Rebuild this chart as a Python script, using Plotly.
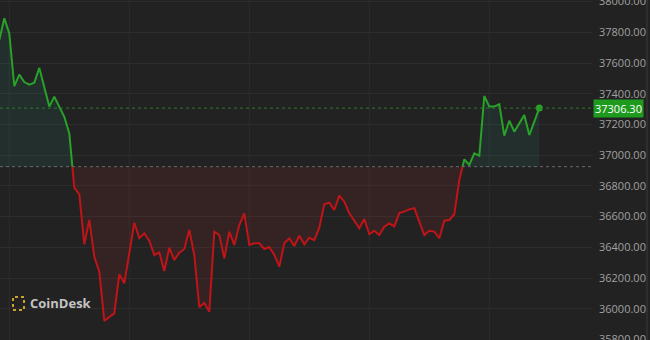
import plotly.graph_objects as go

# ---- data (hourly BTC prices) ----
prices = [
    37750, 37891, 37793, 37450, 37524, 37476, 37459, 37472, 37568, 37437,
    37316, 37381, 37316, 37250, 37142, 36788, 36745, 36419, 36578, 36339,
    36241, 35920, 35946, 35970, 36224, 36166, 36363, 36560, 36459, 36491,
    36441, 36350, 36367, 36246, 36397, 36317, 36365, 36389, 36513, 36350,
    36009, 36039, 35981, 36501, 36480, 36328, 36501, 36415, 36545, 36621,
    36415, 36426, 36426, 36389, 36402, 36350, 36274, 36426, 36459, 36408,
    36475, 36419, 36462, 36447, 36528, 36680, 36690, 36643, 36736, 36697,
    36621, 36571, 36524, 36584, 36485, 36508, 36480, 36534, 36556, 36536,
    36623, 36632, 36647, 36654, 36567, 36480, 36508, 36502, 36459, 36573,
    36578, 36615, 36838, 36973, 36936, 37012, 36996, 37385, 37316, 37316,
    37331, 37127, 37224, 37153, 37207, 37261, 37131, 37222, 37306.30,
]
base_price = 36925
last_price = 37306.30
y_ticks = [35800, 36000, 36200, 36400, 36600, 36800, 37000, 37200, 37400,
           37600, 37800, 38000]
grid_x = [2, 26, 50, 74, 98]

GREEN = "#28a228"
RED = "#c01418"
BG = "#222222"
GRID = "#2d2d2d"
TXT = "#a0a0a0"

# build series with inserted crossing points
xs, vs = [], []
for i, v in enumerate(prices):
    if i > 0:
        p = prices[i - 1]
        if (p - base_price) * (v - base_price) < 0:
            t = (base_price - p) / (v - p)
            xs.append(i - 1 + t)
            vs.append(base_price)
    xs.append(i)
    vs.append(v)

up = [v if v >= base_price else None for v in vs]
dn = [v if v <= base_price else None for v in vs]
up_fill = [max(v, base_price) for v in vs]
dn_fill = [min(v, base_price) for v in vs]
base_line = [base_price] * len(xs)

fig = go.Figure()
fig.add_trace(go.Scatter(x=xs, y=base_line, mode="lines", line=dict(width=0),
                         hoverinfo="skip", showlegend=False))
fig.add_trace(go.Scatter(x=xs, y=up_fill, mode="lines", line=dict(width=0),
                         fill="tonexty", fillcolor="rgba(40,130,110,0.15)",
                         hoverinfo="skip", showlegend=False))
fig.add_trace(go.Scatter(x=xs, y=base_line, mode="lines", line=dict(width=0),
                         hoverinfo="skip", showlegend=False))
fig.add_trace(go.Scatter(x=xs, y=dn_fill, mode="lines", line=dict(width=0),
                         fill="tonexty", fillcolor="rgba(130,40,40,0.20)",
                         hoverinfo="skip", showlegend=False))
# baseline and last-price dotted lines
fig.add_hline(y=base_price, line=dict(color="#6a6a6a", width=1, dash="dot"))
fig.add_hline(y=last_price, line=dict(color="#2f7a2f", width=1, dash="dot"))
fig.add_trace(go.Scatter(x=xs, y=up, mode="lines", line=dict(color=GREEN, width=2),
                         connectgaps=False, showlegend=False))
fig.add_trace(go.Scatter(x=xs, y=dn, mode="lines", line=dict(color=RED, width=2),
                         connectgaps=False, showlegend=False))
fig.add_trace(go.Scatter(x=[len(prices) - 1], y=[last_price], mode="markers",
                         marker=dict(color=GREEN, size=7), showlegend=False))

for gx in grid_x:
    fig.add_vline(x=gx, line=dict(color=GRID, width=1), layer="below")

# price tag
fig.add_annotation(x=1, xref="paper", y=last_price, yref="y", xanchor="left",
                   yanchor="middle", text="37306.30", showarrow=False,
                   font=dict(color="white", size=11, family="Open Sans"),
                   bgcolor="#1e9a1e", borderpad=1, xshift=1)

# CoinDesk logo
W, H = 592, 340
fig.add_shape(type="rect", xref="paper", yref="paper",
              x0=13 / W, x1=24 / W, y0=1 - 310 / H, y1=1 - 297 / H,
              line=dict(color="#c9a22a", width=2, dash="dot"))
fig.add_annotation(x=28 / W, xref="paper", y=1 - 303 / H, yref="paper",
                   xanchor="left", yanchor="middle", text="<b>CoinDesk</b>",
                   showarrow=False, font=dict(color="#c4c4c4", size=13, family="Open Sans"))

# header text, cut off at the top edge as in the reference
fig.add_annotation(x=8 / W, xref="paper", y=1, yref="paper", xanchor="left",
                   yanchor="bottom", yshift=-4, text="Bitcoin · 1H · CoinDesk",
                   showarrow=False, font=dict(color="#b0b0b0", size=12, family="Open Sans"))
fig.add_annotation(x=180 / W, xref="paper", y=1, yref="paper", xanchor="left",
                   yanchor="bottom", yshift=-4, text="37306.30  +381.30 (+1.03%)",
                   showarrow=False, font=dict(color=GREEN, size=12, family="Open Sans"))

fig.update_layout(
    width=650, height=340,
    margin=dict(l=0, r=58, t=0, b=0),
    paper_bgcolor=BG, plot_bgcolor=BG,
    showlegend=False,
    xaxis=dict(range=[0.14, 118.54], showgrid=False, zeroline=False,
               showticklabels=False, fixedrange=True, automargin=False),
    yaxis=dict(range=[35796.3, 38010.3], side="right", tickvals=y_ticks,
               tickformat=".2f", showgrid=True, gridcolor=GRID, gridwidth=1,
               zeroline=False, ticks="", ticklabelstandoff=6,
               ticklabeloverflow="allow", automargin=False,
               tickfont=dict(color=TXT, size=11, family="Open Sans")),
)
fig.add_shape(type="line", xref="paper", yref="paper", x0=647 / W, x1=647 / W,
              y0=0, y1=1, line=dict(color="#3a3a3a", width=1))

fig.write_html("out.html")
